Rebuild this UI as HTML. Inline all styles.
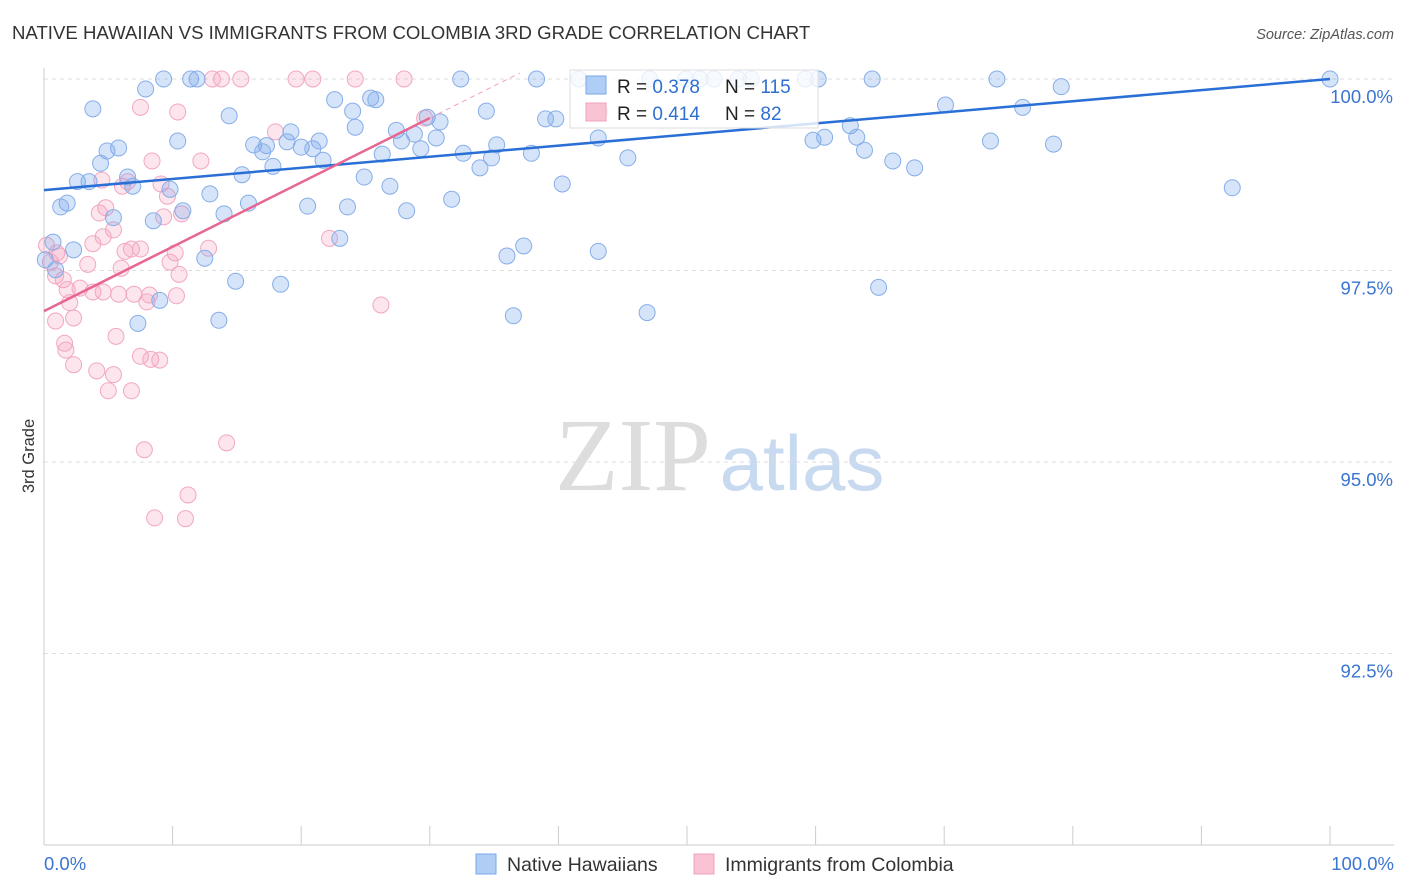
<!DOCTYPE html>
<html><head><meta charset="utf-8"><style>
body{margin:0;background:#fff;font-family:"Liberation Sans",sans-serif}
svg{display:block}
</style></head><body>
<svg id="chart" width="1406" height="892" viewBox="0 0 1406 892" xmlns="http://www.w3.org/2000/svg">
<text x="12" y="39" font-size="18.6" fill="#333">NATIVE HAWAIIAN VS IMMIGRANTS FROM COLOMBIA 3RD GRADE CORRELATION CHART</text>
<text x="1394" y="39" font-size="14.5" fill="#555" font-style="italic" text-anchor="end">Source: ZipAtlas.com</text>
<text x="34" y="456" font-size="16.5" fill="#333" text-anchor="middle" transform="rotate(-90 34 456)">3rd Grade</text>
<g><text x="633" y="490" font-size="104" fill="#ddd" font-family="Liberation Serif" text-anchor="middle">ZIP</text><text x="802" y="490" font-size="78" fill="#c8daf0" text-anchor="middle">atlas</text></g>
<g id="grid"></g><g id="axes"></g><g id="pink"></g><g id="blue"></g><g id="lines"></g>
<g>
<rect x="570" y="70" width="248" height="58" fill="rgba(255,255,255,0.8)" stroke="#ddd"/>
<rect x="586" y="76" width="20" height="18" fill="#b0cdf5" stroke="#7aa6e6"/>
<rect x="586" y="103" width="20" height="18" fill="#f9c3d3" stroke="#f0a0bc"/>
<text x="617" y="93" font-size="19" fill="#222">R = <tspan fill="#2f6fd0">0.378</tspan><tspan x="725">N = </tspan><tspan fill="#2f6fd0">115</tspan></text>
<text x="617" y="120" font-size="19" fill="#222">R = <tspan fill="#2f6fd0">0.414</tspan><tspan x="725">N = </tspan><tspan fill="#2f6fd0"> 82</tspan></text>
</g>
<g>
<rect x="476" y="854" width="20" height="20" fill="#b0cdf5" stroke="#7aa6e6"/>
<text x="507" y="871" font-size="19.5" fill="#333">Native Hawaiians</text>
<rect x="694" y="854" width="20" height="20" fill="#f9c3d3" stroke="#f0a0bc"/>
<text x="725" y="871" font-size="19.5" fill="#333">Immigrants from Colombia</text>
</g>
</svg>
<script>
const yTicks=[100,97.5,95,92.5];
const yTickLabels=["100.0%","97.5%","95.0%","92.5%"];
const blueX=[7.9,9.3,11.4,11.9,3.8,14.4,10.4,5.8,4.9,4.4,6.5,6.9,2.6,3.5,1.8,1.3,5.4,8.5,9.8,10.8,12.9,14.0,15.4,15.9,16.3,17.3,17.0,17.8,19.2,18.9,20.0,20.9,21.4,21.7,20.5,22.6,24.0,24.2,25.4,25.8,24.9,23.6,23.0,26.3,27.4,27.8,28.8,29.3,26.9,28.2,29.8,30.8,30.5,31.7,32.6,32.4,34.4,35.2,34.8,33.9,37.9,39.0,39.8,38.3,37.3,36.0,36.5,40.3,41.6,43.1,43.2,45.4,43.1,46.9,47.1,49.9,51.0,52.1,54.0,55.0,59.2,60.2,59.8,60.7,62.7,63.2,63.8,66.0,67.7,64.4,64.9,70.1,74.1,76.1,73.6,78.5,79.1,92.4,100,12.5,14.9,18.4,13.6,9.0,7.3,0.7,2.3,0.1,0.9];
const blueY=[99.87,100,100,100,99.61,99.52,99.19,99.10,99.06,98.90,98.72,98.60,98.66,98.66,98.38,98.33,98.19,98.15,98.56,98.28,98.50,98.24,98.75,98.38,99.14,99.13,99.05,98.86,99.31,99.18,99.11,99.09,99.19,98.94,98.34,99.73,99.58,99.37,99.75,99.73,98.72,98.33,97.92,99.02,99.33,99.19,99.28,99.09,98.60,98.28,99.50,99.44,99.23,98.43,99.03,100,99.58,99.14,98.97,98.84,99.03,99.48,99.48,100,97.82,97.69,96.91,98.63,100,99.23,99.57,98.97,97.75,96.95,100,100,100,100,100,100,100,100,99.20,99.24,99.39,99.24,99.07,98.93,98.84,100,97.28,99.66,100,99.63,99.19,99.15,99.90,98.58,100,97.66,97.36,97.32,96.85,97.11,96.81,97.87,97.77,97.64,97.51];
const pinkX=[7.5,10.4,13.1,13.8,15.3,19.6,20.9,24.2,28.0,18.0,12.2,8.4,9.1,4.5,6.1,6.5,9.6,10.7,9.3,4.8,4.3,5.4,4.6,3.8,6.3,6.8,7.5,10.2,12.8,9.8,10.5,6.0,3.4,1.0,0.5,0.9,1.5,1.8,2.0,2.8,3.8,4.6,5.8,7.0,8.2,8.0,10.3,2.3,0.9,5.6,1.6,1.7,2.3,4.1,5.4,5.0,6.8,7.5,8.3,9.0,7.8,14.2,11.2,8.6,11.0,26.2,22.2,29.6,1.2,0.2];
const pinkY=[99.63,99.57,100,100,100,100,100,100,100,99.31,98.93,98.93,98.63,98.68,98.60,98.66,98.47,98.24,98.20,98.32,98.25,98.03,97.94,97.85,97.75,97.78,97.78,97.73,97.79,97.61,97.45,97.53,97.58,97.73,97.61,97.43,97.38,97.25,97.08,97.27,97.22,97.22,97.19,97.19,97.18,97.09,97.17,96.88,96.84,96.64,96.55,96.46,96.27,96.19,96.14,95.93,95.93,96.38,96.34,96.33,95.16,95.25,94.57,94.27,94.26,97.05,97.92,99.49,97.69,97.83];
const blueLine=[98.55,100];
const pinkLine=[96.97,99.49,30];
const NS="http://www.w3.org/2000/svg";
const X=v=>44+v*12.86, Y=v=>79+(100-v)*76.6;
function mk(tag,attrs,parent){const e=document.createElementNS(NS,tag);for(const k in attrs)e.setAttribute(k,attrs[k]);parent.appendChild(e);return e;}
const grid=document.getElementById('grid'),axes=document.getElementById('axes');
yTicks.forEach((t,i)=>{
  const l=mk('line',{x1:44,x2:1394,y1:Y(t),y2:Y(t),stroke:'#ddd','stroke-dasharray':'4,4'},grid);
  
  
  const tx=mk('text',{x:1393,y:Y(t)+24,'font-size':18.5,fill:'#3a75d0','text-anchor':'end'},axes);
  tx.textContent=yTickLabels[i];
  
  
});
const ax=mk('line',{x1:44,x2:1394,y1:845,y2:845,stroke:'#ccc'},axes);


const ay=mk('line',{x1:44,x2:44,y1:68,y2:845,stroke:'#ccc'},axes);


for(let i=0;i<=10;i++){const t=mk('line',{x1:X(i*10),x2:X(i*10),y1:826,y2:845,stroke:'#ccc'},axes);
  
  }
const x0=mk('text',{x:44,y:870,'font-size':18.5,fill:'#3a75d0'},axes);x0.textContent='0.0%';


const x1=mk('text',{x:1394,y:870,'font-size':18.5,fill:'#3a75d0','text-anchor':'end'},axes);x1.textContent='100.0%';


const pg=document.getElementById('pink'),bg=document.getElementById('blue'),lg=document.getElementById('lines');
pinkX.forEach((v,i)=>{const c=mk('circle',{cx:X(v),cy:Y(pinkY[i]),r:8,fill:'rgba(245,160,190,0.28)',stroke:'#f2a7c0','stroke-width':1},pg);
  
  });
blueX.forEach((v,i)=>{const c=mk('circle',{cx:X(v),cy:Y(blueY[i]),r:8,fill:'rgba(120,165,235,0.3)',stroke:'#86aee8','stroke-width':1},bg);
  
  });
const bl=mk('line',{x1:X(0),y1:Y(blueLine[0]),x2:X(100),y2:Y(blueLine[1]),stroke:'#2a6fd6','stroke-width':2.5},lg);


const slope=(pinkLine[1]-pinkLine[0])/pinkLine[2];
const pd=mk('line',{x1:X(pinkLine[2]),y1:Y(pinkLine[1]),x2:X(37),y2:Y(pinkLine[0]+slope*37),stroke:'#f0a0bc','stroke-width':1,'stroke-dasharray':'5,4'},lg);


const pl=mk('line',{x1:X(0),y1:Y(pinkLine[0]),x2:X(pinkLine[2]),y2:Y(pinkLine[1]),stroke:'#e8668f','stroke-width':2.5},lg);


</script>
</body></html>
